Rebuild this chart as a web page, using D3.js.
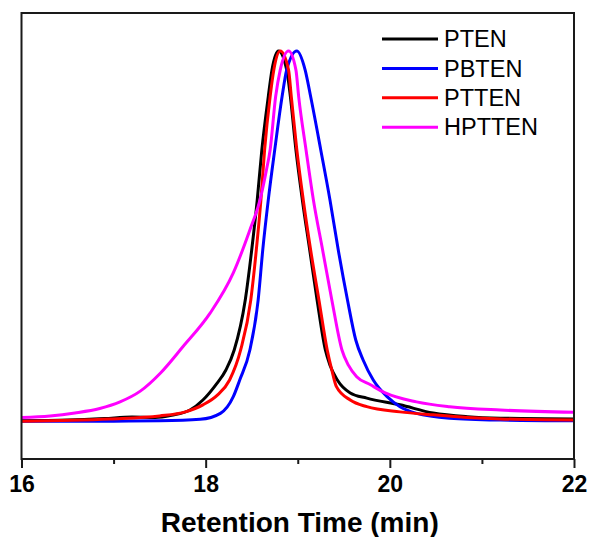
<!DOCTYPE html>
<html>
<head>
<meta charset="utf-8">
<script src="https://cdn.jsdelivr.net/npm/d3@7"></script>
<style>
html, body { margin: 0; padding: 0; background: #fff; }
svg { display: block; }
</style>
</head>
<body>
<svg id="chart" width="590" height="537"></svg>
<script>
// ---- Data ----
const seriesNames = ["PTEN", "PBTEN", "PTTEN", "HPTTEN"];
const seriesColors = ["#000000", "#0000ff", "#ff0000", "#ff00ff"];

const ptenTime = [16.0,16.5,16.9,17.2,17.45,17.63,17.83,17.97,18.11,18.22,18.31,18.43,18.50,18.56,18.61,18.68,18.72,18.79,18.88,18.92,18.98,19.05,19.13,19.21,19.30,19.35,19.43,19.57,19.75,20.11,20.47,20.84,21.2,22.0];
const ptenSignal = [0.002,0.004,0.008,0.012,0.011,0.017,0.031,0.058,0.099,0.139,0.193,0.328,0.463,0.598,0.733,0.877,0.949,1.0,0.949,0.877,0.733,0.598,0.463,0.328,0.193,0.152,0.112,0.077,0.063,0.045,0.023,0.013,0.009,0.007];

const pbtenTime = [16.0,17.0,17.5,17.94,18.16,18.30,18.37,18.48,18.57,18.62,18.68,18.75,18.83,18.88,18.99,19.08,19.14,19.25,19.35,19.44,19.54,19.63,19.71,19.82,19.97,20.11,20.29,20.65,21.2,22.0];
const pbtenSignal = [0.001,0.001,0.002,0.006,0.022,0.067,0.112,0.193,0.328,0.463,0.598,0.733,0.877,0.949,1.0,0.949,0.877,0.733,0.598,0.463,0.328,0.220,0.166,0.112,0.067,0.040,0.022,0.009,0.004,0.002];

const pttenTime = [16.0,16.96,17.5,17.78,17.97,18.13,18.26,18.38,18.49,18.55,18.60,18.64,18.70,18.74,18.81,18.90,18.93,18.99,19.06,19.14,19.23,19.32,19.37,19.42,19.57,19.75,20.11,20.47,20.84,21.2,22.0];
const pttenSignal = [0.001,0.007,0.015,0.026,0.045,0.072,0.112,0.193,0.328,0.463,0.598,0.733,0.877,0.949,1.0,0.949,0.877,0.733,0.598,0.463,0.328,0.193,0.139,0.094,0.058,0.040,0.026,0.018,0.011,0.007,0.004];

const hptenTime = [16.0,16.31,16.58,16.85,17.07,17.29,17.51,17.75,18.05,18.30,18.48,18.59,18.66,18.70,18.76,18.81,18.90,18.98,19.01,19.09,19.17,19.27,19.37,19.48,19.55,19.64,19.79,19.95,20.29,20.65,21.2,22.0];
const hptenSignal = [0.011,0.015,0.023,0.035,0.053,0.082,0.131,0.201,0.293,0.401,0.517,0.598,0.679,0.733,0.877,0.949,1.0,0.949,0.877,0.733,0.598,0.463,0.328,0.193,0.152,0.121,0.099,0.077,0.053,0.040,0.031,0.025];

const xMajorTicks = [16, 18, 20, 22];
const xMinorTicks = [17, 19, 21];
const xTitle = "Retention Time (min)";

// ---- Layout ----
const svg = d3.select("#chart");
const plotLeft = 21.5, plotRight = 574, plotTop = 13, plotBottom = 459;

const x = d3.scaleLinear().domain([16, 22]).range([plotLeft, plotRight]);
const y = d3.scaleLinear().domain([0, 1]).range([421.5, 51]);

const series = [
  { name: seriesNames[0], color: seriesColors[0], t: ptenTime, v: ptenSignal },
  { name: seriesNames[1], color: seriesColors[1], t: pbtenTime, v: pbtenSignal },
  { name: seriesNames[2], color: seriesColors[2], t: pttenTime, v: pttenSignal },
  { name: seriesNames[3], color: seriesColors[3], t: hptenTime, v: hptenSignal }
];

const clipId = "plotclip";
svg.append("defs").append("clipPath").attr("id", clipId)
  .append("rect").attr("x", plotLeft).attr("y", plotTop)
  .attr("width", plotRight - plotLeft).attr("height", plotBottom - plotTop);

const line = d3.line()
  .x(d => x(d[0]))
  .y(d => y(d[1]))
  .curve(d3.curveMonotoneX);

const plot = svg.append("g").attr("clip-path", `url(#${clipId})`);
series.forEach(s => {
  const pts = s.t.map((t, i) => [t, s.v[i]]);
  plot.append("path")
    .datum(pts)
    .attr("d", line)
    .attr("fill", "none")
    .attr("stroke", s.color)
    .attr("stroke-width", 3)
    .attr("stroke-linejoin", "round");
});

// Frame
svg.append("rect")
  .attr("x", plotLeft).attr("y", plotTop)
  .attr("width", plotRight - plotLeft).attr("height", plotBottom - plotTop)
  .attr("fill", "none").attr("stroke", "#1a1a1a").attr("stroke-width", 2);

// X axis major
const axMajor = svg.append("g").attr("transform", `translate(0,${plotBottom})`)
  .call(d3.axisBottom(x).tickValues(xMajorTicks).tickSize(9).tickPadding(8).tickFormat(d3.format("d")));
axMajor.select(".domain").remove();
axMajor.selectAll(".tick line").attr("stroke", "#1a1a1a").attr("stroke-width", 2);
axMajor.selectAll(".tick text")
  .attr("fill", "#000")
  .style("font-family", "'Liberation Sans', Arial, sans-serif")
  .style("font-weight", "bold")
  .style("font-size", "23px");

// X axis minor
const axMinor = svg.append("g").attr("transform", `translate(0,${plotBottom})`)
  .call(d3.axisBottom(x).tickValues(xMinorTicks).tickSize(5).tickFormat(""));
axMinor.select(".domain").remove();
axMinor.selectAll(".tick line").attr("stroke", "#1a1a1a").attr("stroke-width", 2);

// X title
svg.append("text")
  .attr("x", (plotLeft + plotRight) / 2 + 2)
  .attr("y", 531.5)
  .attr("text-anchor", "middle")
  .style("font-family", "'Liberation Sans', Arial, sans-serif")
  .style("font-weight", "bold")
  .style("font-size", "28px")
  .attr("fill", "#000")
  .text(xTitle);

// Legend
const legend = svg.append("g");
const legY0 = 39, legDy = 29.4;
series.forEach((s, i) => {
  const yy = legY0 + i * legDy;
  legend.append("line")
    .attr("x1", 382).attr("x2", 438)
    .attr("y1", yy).attr("y2", yy)
    .attr("stroke", s.color).attr("stroke-width", 3);
  legend.append("text")
    .attr("x", 444).attr("y", yy)
    .attr("dy", "0.35em")
    .style("font-family", "'Liberation Sans', Arial, sans-serif")
    .style("font-size", "23.5px")
    .attr("fill", "#000")
    .text(s.name);
});
</script>
</body>
</html>
